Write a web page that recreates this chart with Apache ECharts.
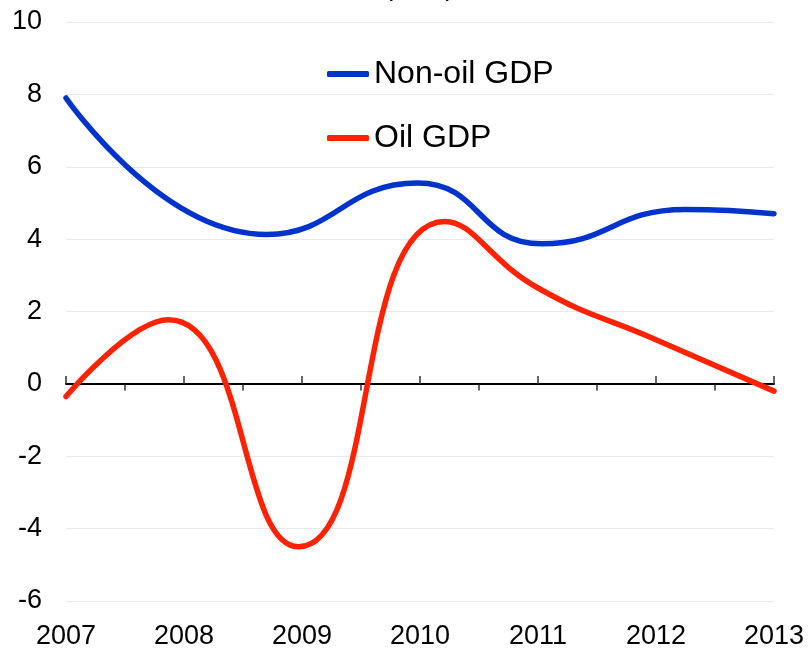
<!DOCTYPE html>
<html>
<head>
<meta charset="utf-8">
<script src="https://cdn.jsdelivr.net/npm/echarts@6/dist/echarts.min.js"></script>
<style>
  html, body { margin: 0; padding: 0; background: #fff; }
  #chart { width: 808px; height: 650px; }
</style>
</head>
<body>
<div id="chart"></div>
<script>
// data: end points and turning points of each curve
const yearLabels = [2007, 2008, 2009, 2010, 2011, 2012, 2013];
const nonOilX = [2007, 2008.7, 2009.98, 2011.03, 2012.25, 2013];
const nonOilGdp = [7.9, 4.13, 5.55, 3.87, 4.82, 4.7];
const oilX = [2007, 2007.87, 2008.97, 2010.21, 2011, 2012, 2013];
const oilGdp = [-0.35, 1.77, -4.5, 4.49, 2.65, 1.22, -0.2];
const halfYearTicks = [2007.5, 2008.5, 2009.5, 2010.5, 2011.5, 2012.5];
const yTicks = { min: -6, max: 10, interval: 2 };

document.addEventListener('DOMContentLoaded', function() {
	const chart = echarts.init(document.getElementById('chart'));
	const font = 'Liberation Sans, Arial, sans-serif';
	const gridBox = { left: 66, right: 34, top: 22, bottom: 48 };
	const xMin = yearLabels[0];
	const xMax = yearLabels[yearLabels.length - 1];

	const option = {
		animation: false,
		textStyle: { fontFamily: font },
		title: {
			text: '(in %)',
			left: 379,
			top: -31,
			textStyle: { fontSize: 27, fontWeight: 'normal', color: '#000', fontFamily: font }
		},
		legend: {
			orient: 'vertical',
			left: 327,
			top: 57,
			padding: 0,
			itemWidth: 42,
			itemHeight: 6,
			itemGap: 30,
			icon: 'roundRect',
			textStyle: { fontSize: 32, color: '#000', lineHeight: 34, fontFamily: font },
			data: ['Non-oil GDP', 'Oil GDP']
		},
		grid: [
			Object.assign({}, gridBox),
			Object.assign({}, gridBox)
		],
		xAxis: [
			// year labels along the bottom
			{
				type: 'value', gridIndex: 0, position: 'bottom',
				min: xMin, max: xMax, interval: 1,
				axisLine: { show: false, onZero: false },
				axisTick: { show: false },
				splitLine: { show: false },
				axisLabel: { fontSize: 27, color: '#000', margin: 22, formatter: function(v) { return String(v); } }
			},
			// zero line with upward year ticks
			{
				type: 'value', gridIndex: 0, position: 'top',
				min: xMin, max: xMax, interval: 1,
				axisLine: { show: true, onZero: true, lineStyle: { color: '#000', width: 2 } },
				axisTick: { show: true, length: 8, lineStyle: { color: '#333', width: 1.5 } },
				axisLabel: { show: false },
				splitLine: { show: false }
			},
			// downward half-year ticks
			{
				type: 'value', gridIndex: 1, position: 'bottom',
				min: xMin, max: xMax, interval: 1,
				axisLine: { show: false, onZero: true },
				axisTick: { show: true, length: 6, customValues: halfYearTicks, lineStyle: { color: '#333', width: 1.5 } },
				axisLabel: { show: false },
				splitLine: { show: false }
			}
		],
		yAxis: [
			{
				type: 'value', gridIndex: 0,
				min: yTicks.min, max: yTicks.max, interval: yTicks.interval,
				axisLine: { show: false },
				axisTick: { show: false },
				axisLabel: { fontSize: 27, color: '#000', margin: 24 },
				splitLine: { lineStyle: { color: '#e8e8e8', width: 1 } }
			},
			{
				type: 'value', gridIndex: 1,
				min: yTicks.min, max: yTicks.max, interval: yTicks.interval,
				axisLine: { show: false },
				axisTick: { show: false },
				axisLabel: { show: false },
				splitLine: { show: false }
			}
		],
		series: [
			{
				name: 'Non-oil GDP',
				type: 'line',
				xAxisIndex: 0, yAxisIndex: 0,
				smooth: true,
				symbol: 'none',
				lineStyle: { width: 5.5, color: '#0033cc', cap: 'round' },
				itemStyle: { color: '#0033cc' },
				data: nonOilX.map(function(x, i) { return [x, nonOilGdp[i]]; })
			},
			{
				name: 'Oil GDP',
				type: 'line',
				xAxisIndex: 0, yAxisIndex: 0,
				smooth: true,
				symbol: 'none',
				lineStyle: { width: 5.5, color: '#ff2200', cap: 'round' },
				itemStyle: { color: '#ff2200' },
				data: oilX.map(function(x, i) { return [x, oilGdp[i]]; })
			}
		]
	};
	chart.setOption(option);
});
</script>
</body>
</html>
